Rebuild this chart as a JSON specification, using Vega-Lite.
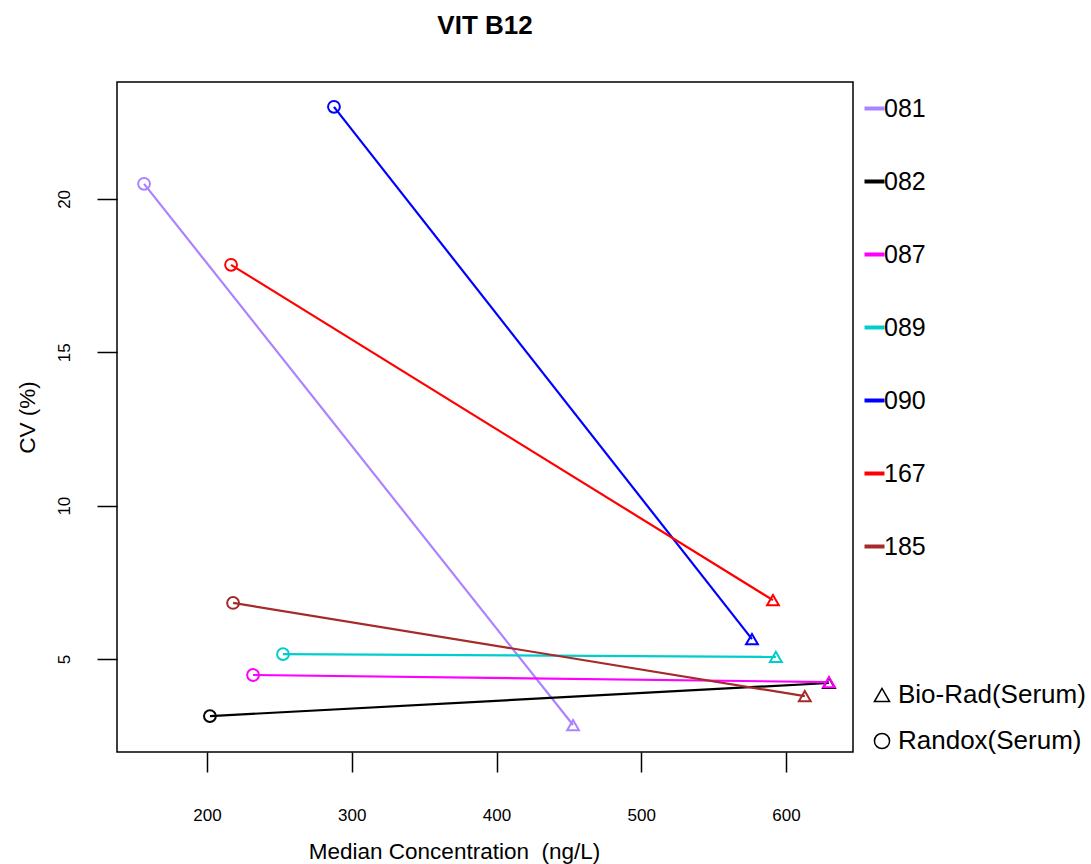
{
  "$schema": "https://vega.github.io/schema/vega-lite/v6.json",
  "width": 736,
  "height": 670,
  "autosize": {"type": "none"},
  "padding": {"left": 117, "top": 82, "right": 238, "bottom": 112},
  "background": "white",
  "title": {
    "text": "VIT B12",
    "font": "Liberation Sans",
    "fontSize": 26,
    "fontWeight": "bold",
    "color": "black",
    "anchor": "middle",
    "baseline": "alphabetic",
    "offset": 22
  },
  "data": {
    "values": [
      {"lab": "081", "method": "Randox(Serum)", "conc": 156.5, "cv": 20.49},
      {"lab": "081", "method": "Bio-Rad(Serum)", "conc": 452.9, "cv": 2.85},
      {"lab": "082", "method": "Randox(Serum)", "conc": 202, "cv": 3.14},
      {"lab": "082", "method": "Bio-Rad(Serum)", "conc": 629.7, "cv": 4.22},
      {"lab": "087", "method": "Randox(Serum)", "conc": 231.8, "cv": 4.48},
      {"lab": "087", "method": "Bio-Rad(Serum)", "conc": 629.7, "cv": 4.25},
      {"lab": "089", "method": "Randox(Serum)", "conc": 252.5, "cv": 5.16},
      {"lab": "089", "method": "Bio-Rad(Serum)", "conc": 593, "cv": 5.07},
      {"lab": "090", "method": "Randox(Serum)", "conc": 287.7, "cv": 23.0},
      {"lab": "090", "method": "Bio-Rad(Serum)", "conc": 576.5, "cv": 5.65},
      {"lab": "167", "method": "Randox(Serum)", "conc": 216.6, "cv": 17.85},
      {"lab": "167", "method": "Bio-Rad(Serum)", "conc": 591, "cv": 6.92},
      {"lab": "185", "method": "Randox(Serum)", "conc": 218, "cv": 6.83},
      {"lab": "185", "method": "Bio-Rad(Serum)", "conc": 613, "cv": 3.79}
    ]
  },
  "encoding": {
    "x": {
      "field": "conc", "type": "quantitative",
      "scale": {"domain": [137.8, 646.3], "nice": false, "zero": false},
      "axis": {
        "title": "Median Concentration\u00a0 (ng/L)",
        "values": [200, 300, 400, 500, 600],
        "domain": false, "grid": false,
        "tickSize": 20, "tickWidth": 1.5, "tickColor": "black",
        "labelFontSize": 17, "labelPadding": 35, "labelColor": "black",
        "labelFont": "Liberation Sans",
        "titleFont": "Liberation Sans", "titleFontSize": 22.5, "titleFontWeight": "normal",
        "titleColor": "black", "titleBaseline": "middle", "titleAlign": "center",
        "titleX": 337, "titleY": 99
      }
    },
    "y": {
      "field": "cv", "type": "quantitative",
      "scale": {"domain": [1.97, 23.81], "nice": false, "zero": false},
      "axis": {
        "title": "CV (%)",
        "values": [5, 10, 15, 20],
        "domain": false, "grid": false,
        "tickSize": 20, "tickWidth": 1.5, "tickColor": "black",
        "labelFontSize": 17, "labelPadding": 24, "labelColor": "black",
        "labelFont": "Liberation Sans",
        "labelAngle": 270, "labelAlign": "center", "labelBaseline": "bottom",
        "titleFont": "Liberation Sans", "titleFontSize": 22.5, "titleFontWeight": "normal",
        "titleColor": "black", "titleBaseline": "middle", "titleAlign": "center",
        "titleAngle": 270, "titleX": -90, "titleY": 335
      }
    },
    "color": {
      "field": "lab", "type": "nominal",
      "scale": {
        "domain": ["081", "082", "087", "089", "090", "167", "185"],
        "range": ["#AB82FF", "#000000", "#FF00FF", "#00CDCD", "#0000FF", "#FF0000", "#A52A2A"]
      },
      "legend": {
        "title": null,
        "orient": "none",
        "legendX": 745,
        "legendY": 14,
        "padding": 0,
        "symbolType": "stroke",
        "symbolSize": 400,
        "symbolStrokeWidth": 4,
        "labelFont": "Liberation Sans",
        "labelFontSize": 25,
        "labelColor": "black",
        "labelOffset": -3,
        "labelLimit": 300,
        "rowPadding": 47
      }
    }
  },
  "layer": [
    {
      "mark": {"type": "line", "strokeWidth": 2.2},
      "encoding": {"detail": {"field": "lab", "type": "nominal"}}
    },
    {
      "mark": {"type": "point", "filled": false, "strokeWidth": 2, "opacity": 1},
      "encoding": {
        "shape": {
          "field": "method", "type": "nominal",
          "scale": {"domain": ["Bio-Rad(Serum)", "Randox(Serum)"], "range": ["triangle-up", "circle"]},
          "legend": {
            "title": null,
            "orient": "none",
            "legendX": 752,
            "legendY": 600,
            "padding": 0,
            "symbolSize": 230,
            "symbolStrokeWidth": 1.5,
            "symbolStrokeColor": "black",
            "symbolFillColor": "transparent",
            "labelFont": "Liberation Sans",
            "labelFontSize": 26,
            "labelColor": "black",
            "labelOffset": 3,
            "labelLimit": 300,
            "rowPadding": 20
          }
        },
        "size": {"value": 140}
      }
    }
  ],
  "config": {
    "view": {"stroke": "black", "strokeWidth": 1.5},
    "legend": {"symbolOpacity": 1}
  }
}
